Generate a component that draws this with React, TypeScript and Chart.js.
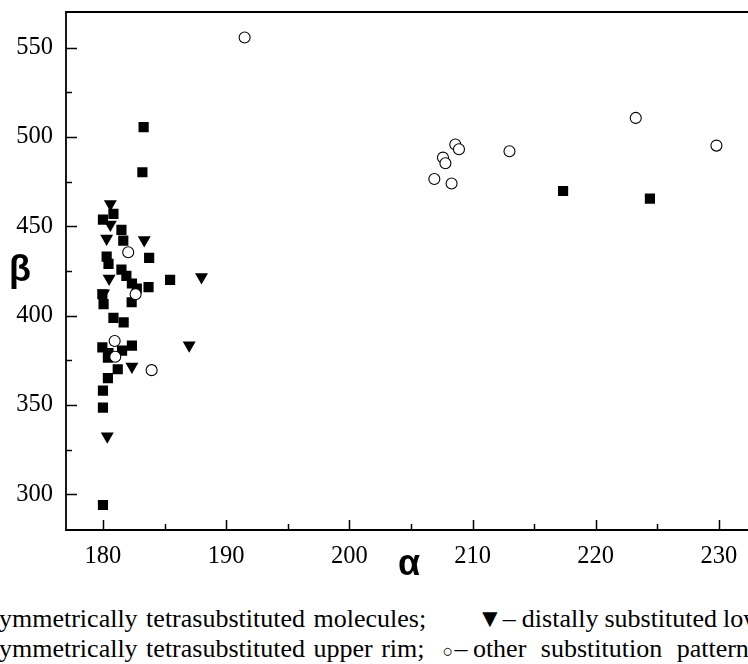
import { useEffect, useRef } from 'react';
import { Chart, registerables } from 'chart.js';

Chart.register(...registerables);

// filled squares
const squareX = [183.3, 183.2, 180.0, 180.85, 181.5, 181.65, 183.75, 180.3, 180.45, 181.5, 181.9, 182.35, 182.75, 183.7, 185.45, 179.95, 180.05, 182.33, 180.85, 181.68, 179.95, 180.45, 181.55, 182.35, 180.4, 181.2, 180.4, 180.0, 180.0, 180.0, 217.35, 224.4];
const squareY = [505.5, 480.3, 453.8, 457.0, 448.0, 442.0, 432.3, 433.0, 429.0, 425.8, 422.3, 418.0, 415.2, 416.0, 420.0, 412.0, 406.5, 407.5, 398.8, 396.2, 382.2, 379.0, 380.4, 383.2, 376.5, 370.0, 365.0, 358.0, 348.5, 294.0, 469.8, 465.5];

// filled down triangles
const triangleX = [180.6, 180.6, 180.3, 183.35, 180.5, 180.05, 188.0, 187.0, 182.35, 180.35];
const triangleY = [462.5, 451.0, 443.2, 442.4, 420.8, 412.5, 421.7, 383.5, 371.5, 332.5];

// open circles
const circleX = [191.5, 182.05, 182.65, 180.95, 181.0, 183.95, 206.9, 208.3, 207.6, 207.8, 208.6, 208.9, 213.0, 223.25, 229.8];
const circleY = [555.7, 435.5, 412.0, 385.8, 377.0, 369.5, 476.5, 474.0, 488.5, 485.3, 495.8, 493.2, 492.0, 510.7, 495.2];

const xTicks = [180, 190, 200, 210, 220, 230];
const xMinorTicks = [185, 195, 205, 215, 225];
const yTicks = [300, 350, 400, 450, 500, 550];
const yMinorTicks = [325, 375, 425, 475, 525];

const xTitle = 'α';
const yTitle = 'β';
const caption1Hidden = '■ – s';
const caption1a = 'ymmetrically tetrasubstituted molecules;';
const caption1Symbol = '▼';
const caption1b = '– distally substituted lower rim;';
const caption2Hidden = '■ – as';
const caption2a = 'ymmetrically tetrasubstituted upper rim;';
const caption2Symbol = '○';
const caption2b = '– other';
const caption2c = ' substitution patterns';

const toPoints = (xs: number[], ys: number[]) => xs.map((x, i) => ({ x, y: ys[i] }));

const framePlugin = {
  id: 'frameTicks',
  afterDatasetsDraw(chart: any) {
    const { ctx, chartArea: a, scales } = chart;
    const xs = scales.x;
    const ys = scales.y;
    ctx.save();
    ctx.strokeStyle = '#000';
    ctx.lineWidth = 1.8;
    ctx.beginPath();
    ctx.moveTo(a.right + 5, a.top);
    ctx.lineTo(a.left, a.top);
    ctx.lineTo(a.left, a.bottom);
    ctx.lineTo(a.right + 5, a.bottom);
    ctx.stroke();
    ctx.lineWidth = 1.5;
    ctx.beginPath();
    xTicks.forEach((v) => {
      const p = Math.round(xs.getPixelForValue(v)) + 0.5;
      ctx.moveTo(p, a.bottom);
      ctx.lineTo(p, a.bottom - 10);
    });
    xMinorTicks.forEach((v) => {
      const p = Math.round(xs.getPixelForValue(v)) + 0.5;
      ctx.moveTo(p, a.bottom);
      ctx.lineTo(p, a.bottom - 6);
    });
    yTicks.forEach((v) => {
      const p = Math.round(ys.getPixelForValue(v)) + 0.5;
      ctx.moveTo(a.left, p);
      ctx.lineTo(a.left + 11, p);
    });
    yMinorTicks.forEach((v) => {
      const p = Math.round(ys.getPixelForValue(v)) + 0.5;
      ctx.moveTo(a.left, p);
      ctx.lineTo(a.left + 6, p);
    });
    ctx.stroke();
    ctx.restore();
  },
};

export default function App() {
  const canvasRef = useRef<HTMLCanvasElement | null>(null);

  useEffect(() => {
    if (!canvasRef.current) return;
    const tickFont = { family: '"Liberation Serif", "Times New Roman", serif', size: 24.5 };
    const chart = new Chart(canvasRef.current, {
      type: 'scatter',
      data: {
        datasets: [
          {
            label: 'other',
            data: toPoints(circleX, circleY),
            pointStyle: 'circle',
            pointRadius: 5.5,
            backgroundColor: '#ffffff',
            borderColor: '#000000',
            borderWidth: 1.1,
          },
          {
            label: 'distal',
            data: toPoints(triangleX, triangleY),
            pointStyle: 'triangle',
            rotation: 180,
            pointRadius: 7.5,
            backgroundColor: '#000000',
            borderColor: '#000000',
            borderWidth: 0,
          },
          {
            label: 'symmetric',
            data: toPoints(squareX, squareY),
            pointStyle: 'rect',
            pointRadius: 7.2,
            backgroundColor: '#000000',
            borderColor: '#000000',
            borderWidth: 0,
          },
        ],
      },
      options: {
        responsive: false,
        animation: false,
        devicePixelRatio: 1,
        layout: { padding: { top: 12, left: 0, right: 0, bottom: 0 } },
        plugins: { legend: { display: false }, tooltip: { enabled: false }, title: { display: false } },
        scales: {
          x: {
            type: 'linear',
            min: 177,
            max: 235,
            grid: { display: false, drawTicks: false },
            border: { display: false },
            ticks: { font: tickFont, color: '#000', padding: 12, maxRotation: 0 },
            afterBuildTicks: (s: any) => {
              s.ticks = xTicks.map((v) => ({ value: v }));
            },
            afterFit: (s: any) => {
              s.height = 70;
              s.paddingLeft = 0;
              s.paddingRight = 0;
            },
          },
          y: {
            type: 'linear',
            min: 280,
            max: 570,
            grid: { display: false, drawTicks: false },
            border: { display: false },
            ticks: { font: tickFont, color: '#000', padding: 13 },
            afterBuildTicks: (s: any) => {
              s.ticks = yTicks.map((v) => ({ value: v }));
            },
            afterFit: (s: any) => {
              s.width = 66;
              s.paddingTop = 0;
              s.paddingBottom = 0;
            },
          },
        },
      },
      plugins: [framePlugin],
    });
    return () => chart.destroy();
  }, []);

  const captionStyle: any = {
    position: 'absolute',
    left: -1,
    whiteSpace: 'pre',
    fontFamily: '"Liberation Serif", "Times New Roman", serif',
    fontSize: 26,
    lineHeight: '26px',
    color: '#000',
  };
  const hiddenStyle: any = { position: 'absolute', right: '100%', whiteSpace: 'nowrap' };

  return (
    <div
      style={{
        position: 'fixed',
        left: 0,
        top: 0,
        width: 748,
        height: 664,
        overflow: 'hidden',
        background: '#fff',
      }}
    >
      <canvas
        ref={canvasRef}
        width={788}
        height={600}
        style={{ position: 'absolute', left: 0, top: 0, width: 788, height: 600 }}
      />
      <div
        style={{
          position: 'absolute',
          left: 9,
          top: 251,
          fontFamily: '"Liberation Sans", Arial, sans-serif',
          fontSize: 36,
          lineHeight: '36px',
          fontWeight: 'bold',
          color: '#000',
        }}
      >
        {yTitle}
      </div>
      <div
        style={{
          position: 'absolute',
          left: 398,
          top: 545,
          fontFamily: '"Liberation Sans", Arial, sans-serif',
          fontSize: 36,
          lineHeight: '36px',
          fontWeight: 'bold',
          color: '#000',
        }}
      >
        {xTitle}
      </div>
      <div style={{ ...captionStyle, top: 606 }}>
        <span style={hiddenStyle}>{caption1Hidden}</span>
        <span style={{ wordSpacing: 2 }}>{caption1a}</span>
        <span style={{ display: 'inline-block', marginLeft: 51, marginRight: 0 }}>{caption1Symbol}</span>
        <span style={{ wordSpacing: -0.5 }}>{caption1b}</span>
      </div>
      <div style={{ ...captionStyle, top: 636 }}>
        <span style={hiddenStyle}>{caption2Hidden}</span>
        <span style={{ wordSpacing: 2 }}>{caption2a}</span>
        <span style={{ display: 'inline-block', marginLeft: 18, marginRight: 1, fontSize: 18 }}>{caption2Symbol}</span>
        <span style={{ wordSpacing: -1 }}>{caption2b}</span>
        <span style={{ wordSpacing: 8 }}>{caption2c}</span>
      </div>
    </div>
  );
}
